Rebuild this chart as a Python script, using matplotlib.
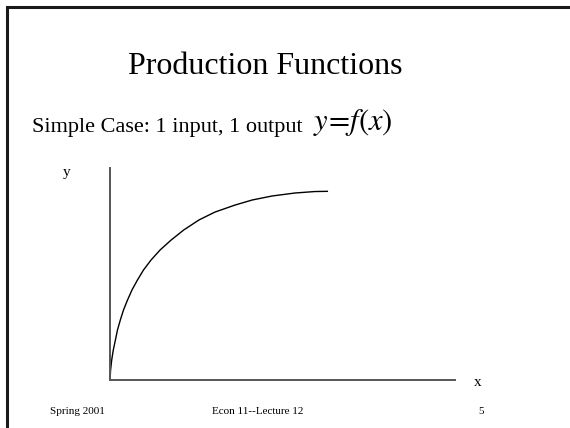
import numpy as np
import matplotlib.pyplot as plt
from matplotlib.lines import Line2D

plt.rcParams['font.family'] = ['Liberation Serif', 'DejaVu Serif']
plt.rcParams['mathtext.fontset'] = 'stix'

# curve (input 0..100 along the x axis, output 0..100 up the y axis)
x_input = [0, 0.17, 0.49, 0.96, 1.57, 2.17, 2.99, 3.91, 5.07, 6.38, 7.97, 9.71,
           11.9, 14.5, 17.7, 21.4, 25.8, 30.4, 36.2, 41.2, 47.0, 53.6, 59.4, 63.2]
y_output = [0, 4.7, 9.4, 14.2, 18.9, 23.6, 28.3, 33.0, 37.7, 42.5, 47.2, 51.9,
            56.6, 61.3, 66.0, 70.8, 75.5, 79.2, 82.5, 84.9, 86.8, 88.2, 88.9, 89.0]

title = "Production Functions"
subtitle = "Simple Case: 1 input, 1 output"
formula = r"$y\!=\!f(x)$"
footer_left = "Spring 2001"
footer_mid = "Econ 11--Lecture 12"
footer_right = "5"

W, H = 570, 428
fig = plt.figure(figsize=(W / 100, H / 100), dpi=100)

# slide layer in pixel coords
bg = fig.add_axes([0, 0, 1, 1])
bg.set_xlim(0, W)
bg.set_ylim(H, 0)
bg.axis('off')

# slide border (left and top)
bg.add_line(Line2D([7, 7, W], [H, 7, 7], color='#1a1a1a', lw=2.2, solid_joinstyle='miter'))

bg.text(265, 74, title, ha='center', va='baseline', fontsize=23)
bg.text(32, 132, subtitle, ha='left', va='baseline', fontsize=16)
bg.text(313, 130, formula, ha='left', va='baseline', fontsize=22)

bg.text(67, 176, "y", ha='center', va='baseline', fontsize=11)
bg.text(478, 386, "x", ha='center', va='baseline', fontsize=11)

bg.text(50, 414, footer_left, ha='left', va='baseline', fontsize=8)
bg.text(258, 414, footer_mid, ha='center', va='baseline', fontsize=8)
bg.text(481, 414, footer_right, ha='center', va='baseline', fontsize=8)

# the graph
ax = fig.add_axes([110 / W, 48 / H, 345 / W, 212 / H])
ax.set_xlim(0, 100)
ax.set_ylim(0, 100)
ax.patch.set_alpha(0)
for side in ['top', 'right']:
    ax.spines[side].set_visible(False)
for side in ['left', 'bottom']:
    ax.spines[side].set_color('#555555')
    ax.spines[side].set_linewidth(1.4)
ax.set_xticks([])
ax.set_yticks([])

ax.plot(x_input, y_output, color='black', lw=1.0, clip_on=False,
        solid_capstyle='butt', solid_joinstyle='round')

fig.savefig('out.png', dpi=100)
